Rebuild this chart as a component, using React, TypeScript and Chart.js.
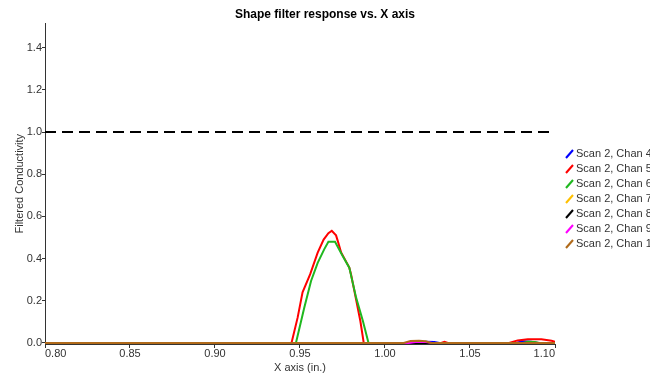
import React, { useEffect, useRef } from "react";
import { Chart, registerables } from "chart.js";

Chart.register(...registerables);

const chartTitle = "Shape filter response vs. X axis";
const xAxisTitle = "X axis (in.)";
const yAxisTitle = "Filtered Conductivity";

const seriesNames = [
  "Scan 2, Chan 4",
  "Scan 2, Chan 5",
  "Scan 2, Chan 6",
  "Scan 2, Chan 7",
  "Scan 2, Chan 8",
  "Scan 2, Chan 9",
  "Scan 2, Chan 10",
];
const seriesColors = ["#0000ff", "#ff0000", "#1fb81f", "#ffc000", "#000000", "#ff00ff", "#b06a1a"];

const xChan4 = [0.8, 1.02, 1.024, 1.029, 1.032, 1.077, 1.081, 1.086, 1.09, 1.1];
const yChan4 = [0, 0, 0.006, 0.005, 0, 0, 0.008, 0.006, 0, 0];

const xChan5 = [0.8, 0.945, 0.9486, 0.9515, 0.956, 0.9604, 0.9639, 0.9667, 0.9687, 0.9712, 0.9722, 0.9742, 0.979, 0.98, 0.982, 0.9855, 0.9875, 1.033, 1.035, 1.037, 1.073, 1.078, 1.084, 1.092, 1.098, 1.1];
const yChan5 = [0, 0, 0.12, 0.24, 0.326, 0.428, 0.49, 0.52, 0.532, 0.51, 0.484, 0.429, 0.357, 0.326, 0.246, 0.104, 0, 0, 0.005, 0, 0, 0.012, 0.018, 0.017, 0.01, 0.006];

const xChan6 = [0.8, 0.9476, 0.9525, 0.9565, 0.9604, 0.9643, 0.9667, 0.9706, 0.9751, 0.979, 0.981, 0.983, 0.987, 0.9903, 1.081, 1.084, 1.088, 1.091, 1.1];
const yChan6 = [0, 0, 0.167, 0.294, 0.38, 0.445, 0.48, 0.48, 0.412, 0.357, 0.286, 0.215, 0.104, 0, 0, 0.006, 0.005, 0, 0];

const xChan7 = [0.8, 1.1];
const yChan7 = [0, 0];

const xChan8 = [0.8, 1.1];
const yChan8 = [0, 0];

const xChan9 = [0.8, 1.014, 1.018, 1.024, 1.028, 1.1];
const yChan9 = [0, 0, 0.005, 0.004, 0, 0];

const xChan10 = [0.8, 1.011, 1.015, 1.02, 1.024, 1.027, 1.1];
const yChan10 = [0, 0, 0.009, 0.01, 0.008, 0, 0];

const xThreshold = [0.8, 1.1];
const yThreshold = [1.0, 1.0];

const xTicks = [0.8, 0.85, 0.9, 0.95, 1.0, 1.05, 1.1];
const yTicks = [0, 0.2, 0.4, 0.6, 0.8, 1.0, 1.2, 1.4];

const seriesX = [xChan4, xChan5, xChan6, xChan7, xChan8, xChan9, xChan10];
const seriesY = [yChan4, yChan5, yChan6, yChan7, yChan8, yChan9, yChan10];

const FONT = "'Liberation Sans', Arial, sans-serif";

const legendPlugin = {
  id: "sideLegend",
  afterDraw(chart: any) {
    const ctx = chart.ctx;
    const x0 = chart.chartArea.right + 11;
    const y0 = 154;
    ctx.save();
    ctx.font = `11px ${FONT}`;
    ctx.textBaseline = "middle";
    ctx.textAlign = "left";
    seriesNames.forEach((name, i) => {
      const cy = y0 + i * 15;
      ctx.strokeStyle = seriesColors[i];
      ctx.lineWidth = 2;
      ctx.beginPath();
      ctx.moveTo(x0, cy + 4);
      ctx.lineTo(x0 + 7, cy - 4);
      ctx.stroke();
      ctx.fillStyle = "#333";
      ctx.fillText(name, x0 + 10, cy);
    });
    ctx.restore();
  },
};

export default function App() {
  const ref = useRef<HTMLCanvasElement | null>(null);
  useEffect(() => {
    if (!ref.current) return;
    const datasets: any[] = seriesNames.map((name, i) => ({
      label: name,
      data: seriesX[i].map((x, j) => ({ x, y: seriesY[i][j] })),
      borderColor: seriesColors[i],
      backgroundColor: seriesColors[i],
      borderWidth: 2,
      pointRadius: 0,
      fill: false,
      tension: 0,
      order: 20 - i,
    }));
    datasets.push({
      label: "threshold",
      data: xThreshold.map((x, j) => ({ x, y: yThreshold[j] })),
      borderColor: "#000",
      borderWidth: 2,
      borderDash: [11, 6],
      pointRadius: 0,
      fill: false,
      order: 0,
    });
    const chart = new Chart(ref.current, {
      type: "line",
      data: { datasets },
      plugins: [legendPlugin],
      options: {
        animation: false,
        responsive: false,
        maintainAspectRatio: false,
        layout: { padding: 0 },
        plugins: {
          legend: { display: false },
          tooltip: { enabled: false },
          title: {
            display: true,
            text: chartTitle,
            color: "#000",
            font: { family: FONT, size: 12, weight: "bold" },
            padding: { top: 7, bottom: 2 },
          },
        },
        scales: {
          x: {
            type: "linear",
            min: 0.8,
            max: 1.1,
            afterBuildTicks: (s: any) => {
              s.ticks = xTicks.map((v) => ({ value: v }));
            },
            afterFit: (s: any) => {
              s.height = 35;
            },
            ticks: {
              align: "inner",
              color: "#333",
              font: { family: FONT, size: 11 },
              padding: -1,
              maxRotation: 0,
              callback: (v: any) => Number(v).toFixed(2),
            },
            grid: { display: true, drawOnChartArea: false, drawTicks: true, tickLength: 4, color: "#333" },
            border: { display: true, color: "#333", width: 1 },
            title: {
              display: true,
              text: xAxisTitle,
              color: "#333",
              font: { family: FONT, size: 11 },
              padding: { top: 0, bottom: 4 },
            },
          },
          y: {
            type: "linear",
            min: -0.005,
            max: 1.515,
            afterBuildTicks: (s: any) => {
              s.ticks = yTicks.map((v) => ({ value: v }));
            },
            afterFit: (s: any) => {
              s.width = 45;
            },
            ticks: {
              color: "#333",
              font: { family: FONT, size: 11 },
              padding: 0,
              callback: (v: any) => Number(v).toFixed(1),
            },
            grid: { display: true, drawOnChartArea: false, drawTicks: true, tickLength: 3, color: "#333" },
            border: { display: true, color: "#333", width: 1 },
            title: {
              display: true,
              text: yAxisTitle,
              color: "#333",
              font: { family: FONT, size: 11 },
              padding: { top: 13, bottom: 0 },
            },
          },
          legendSpace: {
            type: "linear",
            position: "right",
            display: true,
            min: 0,
            max: 1,
            afterFit: (s: any) => {
              s.width = 95;
            },
            ticks: { display: false },
            grid: { display: false, drawTicks: false },
            border: { display: false },
          },
        },
      },
    } as any);
    return () => chart.destroy();
  }, []);
  return (
    <div style={{ position: "fixed", left: 0, top: 0, width: 650, height: 379, background: "#fff" }}>
      <canvas ref={ref} width={650} height={379} style={{ width: 650, height: 379 }} />
    </div>
  );
}
